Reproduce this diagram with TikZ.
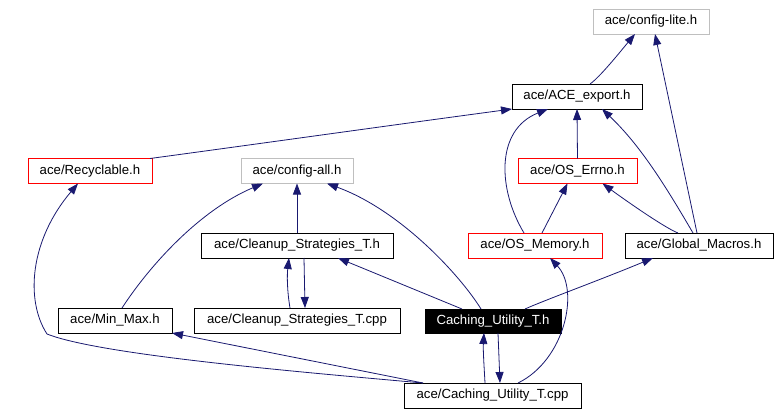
\documentclass[tikz,border=0pt]{standalone}
\usepackage{fontspec}
\setmainfont{Liberation Sans}
\usetikzlibrary{arrows.meta}
\definecolor{edgeblue}{HTML}{191970}
\definecolor{boxgray}{HTML}{BFBFBF}
\definecolor{boxred}{HTML}{FF0000}
\tikzset{
  box/.style={draw=black, line width=0.9pt, fill=white, minimum height=25pt, inner sep=0pt, outer sep=0pt, font=\fontsize{13.2pt}{15pt}\selectfont, text=black},
  graybox/.style={box, draw=boxgray},
  redbox/.style={box, draw=boxred},
  blackbox/.style={box, fill=black, text=white},
  edge/.style={draw=edgeblue, line width=0.8pt, -{Triangle[length=11pt,width=8pt]}, fill=none},
}
\begin{document}
\begin{tikzpicture}[x=1pt,y=-1pt]
\fill[white] (0,0) rectangle (779,415);
\useasboundingbox (0,0) rectangle (779,415);
% nodes
\node[graybox, minimum width=116pt] (lite) at (651,21.5) {ace/config-lite.h};
\node[box, minimum width=130pt] (export) at (577,96.5) {ace/ACE\_export.h};
\node[redbox, minimum width=119pt] (errno) at (577.5,171) {ace/OS\_Errno.h};
\node[redbox, minimum width=124pt] (recyc) at (90,171) {ace/Recyclable.h};
\node[graybox, minimum width=112pt] (cfgall) at (297,171) {ace/config-all.h};
\node[box, minimum width=192pt] (cleanh) at (297,245.5) {ace/Cleanup\_Strategies\_T.h};
\node[redbox, minimum width=134pt] (osmem) at (535,245.5) {ace/OS\_Memory.h};
\node[box, minimum width=148pt] (glob) at (699,245.5) {ace/Global\_Macros.h};
\node[box, minimum width=114pt] (minmax) at (115,320.5) {ace/Min\_Max.h};
\node[box, minimum width=206pt] (cleancpp) at (297,320.5) {ace/Cleanup\_Strategies\_T.cpp};
\node[blackbox, minimum width=136pt, minimum height=24pt] (cuth) at (493,321) {Caching\_Utility\_T.h};
\node[box, minimum width=177pt] (cutcpp) at (492.5,395.5) {ace/Caching\_Utility\_T.cpp};
% edges
\draw[edge] ([xshift=13pt]export.north) .. controls (600,77) and (620,52) .. ([xshift=-16pt]lite.south);
\draw[edge] ([xshift=-2pt]glob.north) -- ([xshift=4pt]lite.south);
\draw[edge] ([xshift=-2pt]recyc.north east) .. controls (250,145) and (400,124) .. (export.south west);
\draw[edge] (errno.north) -- (export.south);
\draw[edge] ([xshift=-11pt]osmem.north) .. controls (498,190) and (495,130) .. ([xshift=-29pt]export.south);
\draw[edge] ([xshift=-6pt]glob.north) .. controls (665,185) and (640,145) .. ([xshift=25pt]export.south);
\draw[edge] ([xshift=7pt]osmem.north) -- ([xshift=-10pt]errno.south);
\draw[edge] ([xshift=-21pt]glob.north) .. controls (665,228) and (625,200) .. ([xshift=25pt]errno.south);
\draw[edge] (cleanh.north) -- (cfgall.south);
\draw[edge] ([xshift=7pt]minmax.north) .. controls (150,265) and (200,210) .. ([xshift=-34pt]cfgall.south);
\draw[edge] ([xshift=-12pt]cuth.north) .. controls (460,275) and (400,210) .. ([xshift=30pt]cfgall.south);
\draw[edge] ([xshift=-31pt]cuth.north) -- ([xshift=-55pt]cleanh.south east);
\draw[edge] ([xshift=32pt]cuth.north) .. controls (545,300) and (600,280) .. ([xshift=-46pt]glob.south);
\draw[edge] ([xshift=-7pt]cleancpp.north) .. controls (287,290) and (287,275) .. ([xshift=-8pt]cleanh.south);
\draw[edge] ([xshift=7pt]cleanh.south) -- ([xshift=8pt]cleancpp.north);
\draw[edge] ([xshift=-7.5pt]cutcpp.north) .. controls (484,365) and (483,350) .. ([xshift=-9pt]cuth.south);
\draw[edge] ([xshift=5pt]cuth.south) -- ([xshift=7.5pt]cutcpp.north);
\draw[edge] ([xshift=25.5pt]cutcpp.north) .. controls (565,360) and (580,290) .. ([xshift=15pt]osmem.south);
\draw[edge] ([xshift=19pt]cutcpp.north west) -- (minmax.south east);
\coordinate (bendL) at (47,334);
\draw[edge] ([xshift=19pt]cutcpp.north west) .. controls (300,372) and (100,355) .. (bendL) .. controls (25,300) and (30,240) .. ([xshift=-12pt]recyc.south);
\end{tikzpicture}
\end{document}
